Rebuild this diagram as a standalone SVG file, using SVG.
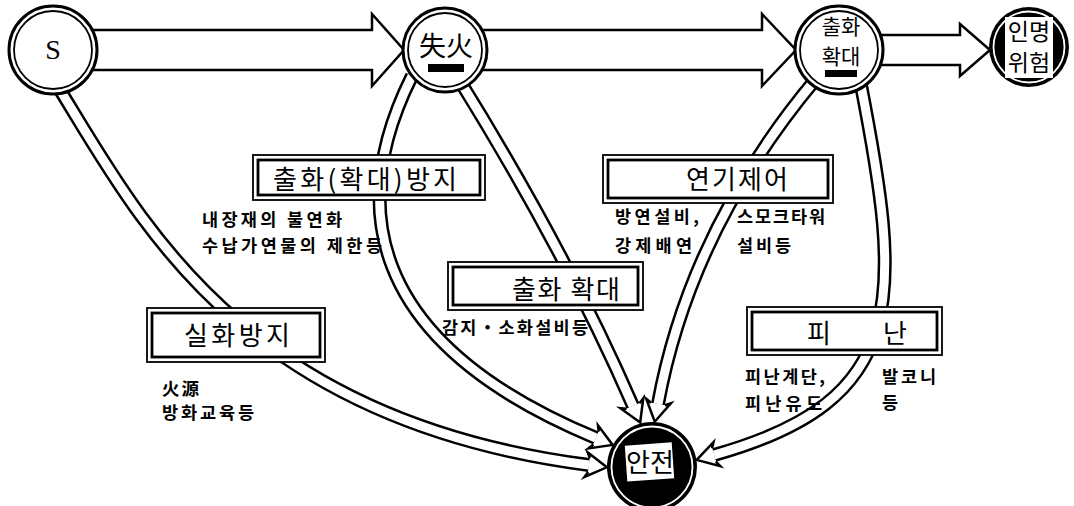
<svg xmlns="http://www.w3.org/2000/svg" width="1074" height="506" viewBox="0 0 1074 506">
<defs>
<style>
.ring{fill:#fff;stroke:#000;stroke-width:3}
.inner{fill:none;stroke:#000;stroke-width:1.8}
.dark{fill:#000}
.gap{fill:none;stroke:#fff;stroke-width:1.8}
.pipeO{fill:none;stroke:#000;stroke-width:14}
.pipeI{fill:none;stroke:#fff;stroke-width:9}
.big{fill:#fff;stroke:#000;stroke-width:2.5;stroke-linejoin:miter}
.bo{fill:#fff;stroke:#000;stroke-width:1.8}
.bi{fill:none;stroke:#000;stroke-width:2.8}
.t{font-family:"Noto Sans CJK KR","Noto Sans",sans-serif;fill:#000;text-anchor:middle}
.bt{font-size:26px}
.st{font-family:"Noto Sans CJK KR","Noto Sans",sans-serif;font-size:17.5px;font-weight:700;fill:#000}
</style>
<marker id="head" markerUnits="userSpaceOnUse" viewBox="-6 -16 30 32" markerWidth="30" markerHeight="32" refX="0" refY="0" orient="auto" overflow="visible">
<path d="M0 -7 L-3 -12.5 L18 0 L-3 12.5 L0 7" fill="#fff" stroke="#000" stroke-width="2.5"/>
</marker>
</defs>
<rect width="1074" height="506" fill="#fff"/>

<g id="connectors">
  <polygon class="big" points="53,30 372,30 372,14 404,50 372,86 372,70 53,70"/>
  <polygon class="big" points="445,30 762,30 762,14 796,50 762,86 762,70 445,70"/>
  <polygon class="big" points="838,35 960,35 960,24 990,50 960,76 960,65 838,65"/>

  <path class="pipeO" d="M57 85 C140 220, 240 420, 589 465"/>
  <path class="pipeI" d="M57 85 C140 220, 240 420, 589 465" marker-end="url(#head)"/>

  <path class="pipeO" d="M412 76 C350 200, 360 340, 596 438"/>
  <path class="pipeI" d="M412 76 C350 200, 360 340, 596 438" marker-end="url(#head)"/>

  <path class="pipeO" d="M458 78 Q565 250 633 406"/>
  <path class="pipeI" d="M458 78 Q565 250 633 406" marker-end="url(#head)"/>

  <path class="pipeO" d="M815 80 Q690 230 658 404"/>
  <path class="pipeI" d="M815 80 Q690 230 658 404" marker-end="url(#head)"/>

  <path class="pipeO" d="M860 80 C903 300, 910 400, 714 455"/>
  <path class="pipeI" d="M860 80 C903 300, 910 400, 714 455" marker-end="url(#head)"/>
</g>

<g id="node-s">
  <circle class="ring" cx="53" cy="50" r="44"/>
  <circle class="inner" cx="53" cy="50" r="39"/>
  <text x="53" y="59" font-family="'Liberation Serif',serif" font-size="28" text-anchor="middle">S</text>
</g>

<g id="node-shilhwa">
  <circle class="ring" cx="445" cy="50" r="42"/>
  <circle class="inner" cx="445" cy="50" r="37"/>
  <text class="t" x="446" y="56" font-size="27">失火</text>
  <rect x="428" y="64" width="36" height="8" fill="#000"/>
</g>

<g id="node-chulhwa">
  <circle class="ring" cx="839" cy="50" r="44"/>
  <circle class="inner" cx="839" cy="50" r="39"/>
  <text class="t" x="841" y="34" font-size="21">출화</text>
  <text class="t" x="841" y="64" font-size="21">확대</text>
  <rect x="825" y="70" width="32" height="7" fill="#000"/>
</g>

<g id="node-inmyeong">
  <circle class="dark" cx="1029" cy="47" r="40"/>
  <circle class="gap" cx="1029" cy="47" r="35.5"/>
  <rect x="1005" y="17" width="48" height="61" fill="#fff"/>
  <text class="t" x="1029" y="40" font-size="23">인명</text>
  <text class="t" x="1029" y="71" font-size="23">위험</text>
</g>

<g id="node-anjeon">
  <circle class="dark" cx="652" cy="467" r="45"/>
  <circle class="gap" cx="652" cy="467" r="40.5"/>
  <rect x="626" y="444" width="47" height="36" fill="#fff" transform="rotate(-4 649 462)"/>
  <text class="t" x="650" y="472" font-size="26">안전</text>
</g>

<g id="box-bangji">
  <rect class="bo" x="253" y="155" width="232" height="45"/>
  <rect class="bi" x="258" y="160" width="222" height="35"/>
  <text class="t bt" x="365" y="189" textLength="184" lengthAdjust="spacing">출화(확대)방지</text>
  <text class="st" x="202" y="226" textLength="140" lengthAdjust="spacing">내장재의 불연화</text>
  <text class="st" x="202" y="252" textLength="180" lengthAdjust="spacing">수납가연물의 제한등</text>
</g>

<g id="box-yeongi">
  <rect class="bo" x="603" y="155" width="230" height="48"/>
  <rect class="bi" x="608" y="160" width="220" height="38"/>
  <text class="t bt" x="737" y="189" textLength="102" lengthAdjust="spacing">연기제어</text>
  <text class="st" x="615" y="223" textLength="84" lengthAdjust="spacing">방연설비,</text>
  <text class="st" x="615" y="252" textLength="77" lengthAdjust="spacing">강제배연</text>
  <text class="st" x="737" y="223" textLength="88" lengthAdjust="spacing">스모크타워</text>
  <text class="st" x="737" y="252" textLength="54" lengthAdjust="spacing">설비등</text>
</g>

<g id="box-hwakdae">
  <rect class="bo" x="448" y="262" width="195" height="48"/>
  <rect class="bi" x="453" y="267" width="185" height="38"/>
  <text class="t bt" x="566" y="299" textLength="108" lengthAdjust="spacing">출화 확대</text>
  <text class="st" x="442" y="334" font-size="18" textLength="146" lengthAdjust="spacing">감지・소화설비등</text>
</g>

<g id="box-silhwa">
  <rect class="bo" x="147" y="308" width="178" height="54"/>
  <rect class="bi" x="152" y="313" width="168" height="44"/>
  <text class="t bt" x="237" y="345" textLength="106" lengthAdjust="spacing">실화방지</text>
  <text class="st" x="162" y="395" textLength="37" lengthAdjust="spacing">火源</text>
  <text class="st" x="162" y="419" textLength="92" lengthAdjust="spacing">방화교육등</text>
</g>

<g id="box-pinan">
  <rect class="bo" x="747" y="307" width="195" height="48"/>
  <rect class="bi" x="752" y="312" width="185" height="38"/>
  <text class="t bt" x="819" y="343">피</text>
  <text class="t bt" x="895" y="343">난</text>
  <text class="st" x="745" y="383" textLength="80" lengthAdjust="spacing">피난계단,</text>
  <text class="st" x="745" y="410" textLength="77" lengthAdjust="spacing">피난유도</text>
  <text class="st" x="882" y="383" textLength="54" lengthAdjust="spacing">발코니</text>
  <text class="st" x="882" y="409">등</text>
</g>
</svg>
